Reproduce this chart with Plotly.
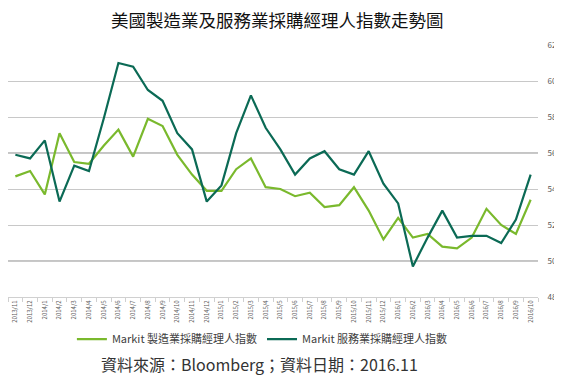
import plotly.graph_objects as go

months = ["2013/11", "2013/12",
          "2014/1", "2014/2", "2014/3", "2014/4", "2014/5", "2014/6",
          "2014/7", "2014/8", "2014/9", "2014/10", "2014/11", "2014/12",
          "2015/1", "2015/2", "2015/3", "2015/4", "2015/5", "2015/6",
          "2015/7", "2015/8", "2015/9", "2015/10", "2015/11", "2015/12",
          "2016/1", "2016/2", "2016/3", "2016/4", "2016/5", "2016/6",
          "2016/7", "2016/8", "2016/9", "2016/10"]

manufacturing = [54.7, 55.0, 53.7, 57.1, 55.5, 55.4, 56.4, 57.3, 55.8, 57.9, 57.5, 55.9,
                 54.8, 53.9, 53.9, 55.1, 55.7, 54.1, 54.0, 53.6, 53.8, 53.0, 53.1, 54.1,
                 52.8, 51.2, 52.4, 51.3, 51.5, 50.8, 50.7, 51.3, 52.9, 52.0, 51.5, 53.4]

services = [55.9, 55.7, 56.7, 53.3, 55.3, 55.0, 57.9, 61.0, 60.8, 59.5, 58.9, 57.1,
            56.2, 53.3, 54.2, 57.1, 59.2, 57.4, 56.2, 54.8, 55.7, 56.1, 55.1, 54.8,
            56.1, 54.3, 53.2, 49.7, 51.3, 52.8, 51.3, 51.4, 51.4, 51.0, 52.3, 54.8]

y_ticks = [48, 50, 52, 54, 56, 58, 60, 62]
dark_grid = [50, 56]

name_mfg = "Markit 製造業採購經理人指數"
name_svc = "Markit 服務業採購經理人指數"
title = "美國製造業及服務業採購經理人指數走勢圖"
source = "資料來源：Bloomberg；資料日期：2016.11"

FONT = "Noto Sans CJK TC, Noto Sans, DejaVu Sans, sans-serif"

fig = go.Figure()
fig.add_trace(go.Scatter(x=months, y=manufacturing, mode="lines", name=name_mfg,
                         line=dict(color="#7ab92d", width=2.2), yaxis="y"))
fig.add_trace(go.Scatter(x=months, y=services, mode="lines", name=name_svc,
                         line=dict(color="#0b6a55", width=2.2), yaxis="y2"))

for v in dark_grid:
    fig.add_shape(type="line", xref="paper", x0=0, x1=1, yref="y", y0=v, y1=v,
                  line=dict(color="#8c8c8c", width=1.2), layer="below")

# the page body has an 8px default margin, so the figure is 8px smaller than the window
fig.update_layout(
    width=554, height=371,
    margin=dict(l=0, r=24, t=37, b=82),
    paper_bgcolor="white", plot_bgcolor="white",
    font=dict(family=FONT, color="#595959"),
    showlegend=True,
    legend=dict(orientation="h", x=0.48, xanchor="center", y=-0.167, yanchor="middle",
                font=dict(size=11, color="#404040"), itemwidth=30,
                tracegroupgap=0, bgcolor="rgba(0,0,0,0)"),
    xaxis=dict(type="category", tickangle=-90, tickfont=dict(size=6, color="#595959"),
               showgrid=False, showline=True, linecolor="#d0d0d0", linewidth=1,
               ticks="outside", tickson="boundaries", ticklen=4, tickcolor="#d0d0d0",
               range=[-0.5, len(months) - 0.5], fixedrange=True, automargin=False),
    yaxis=dict(range=[48, 62], tickvals=y_ticks, side="right",
               showgrid=True, gridcolor="#c8c8c8", gridwidth=1,
               showline=False, ticks="outside", ticklen=7, tickcolor="rgba(0,0,0,0)",
               tickfont=dict(size=8, color="#595959"),
               zeroline=False, fixedrange=True, automargin=False),
    yaxis2=dict(range=[48, 62], tickvals=y_ticks, overlaying="y", side="left",
                showgrid=False, showticklabels=False,
                showline=True, linecolor="#8c8c8c", linewidth=1.5,
                ticks="outside", ticklen=4, tickcolor="#8c8c8c",
                zeroline=False, fixedrange=True, automargin=False),
    annotations=[
        dict(text=title, xref="paper", yref="paper", x=0.508, y=1.0, yshift=26,
             xanchor="center", yanchor="middle", showarrow=False,
             font=dict(size=17.5, color="#111111", family=FONT)),
        dict(text=source, xref="paper", yref="paper", x=0.475, y=0, yshift=-67,
             xanchor="center", yanchor="middle", showarrow=False,
             font=dict(size=16, color="#333333", family=FONT)),
    ],
)

fig.write_html("out.html")
